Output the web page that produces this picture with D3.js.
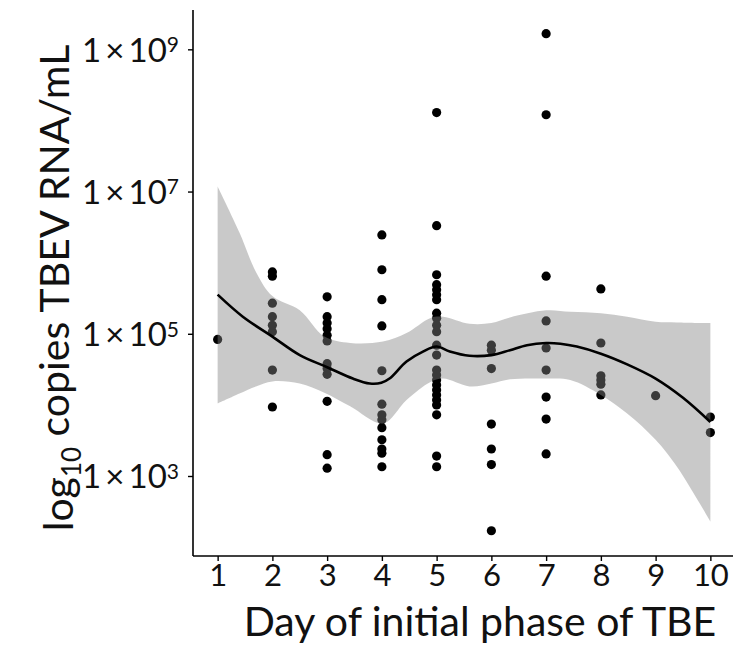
<!DOCTYPE html>
<html lang="en">
<head>
<meta charset="UTF-8">
<title>TBEV RNA by day</title>
<script src="https://d3js.org/d3.v7.min.js"></script>
<style>
  body { margin: 0; background: #fff; }
  text { font-family: Lato, "Open Sans", sans-serif; fill: #111; }
</style>
</head>
<body>
<script>
// days of the initial phase and log10 copies/mL
var days = [1, 2, 3, 4, 5, 6, 7, 8, 9, 10];
var log10Copies = [
  [4.92],
  [5.87, 5.81, 5.43, 5.24, 5.12, 5.03, 4.49, 3.97],
  [5.52, 5.24, 5.15, 5.07, 4.98, 4.90, 4.58, 4.51, 4.43, 4.05, 3.30, 3.11],
  [6.39, 5.90, 5.48, 5.11, 4.48, 4.01, 3.86, 3.79, 3.68, 3.51, 3.38, 3.32, 3.13],
  [8.11, 6.52, 5.83, 5.69, 5.62, 5.55, 5.48, 5.29, 5.22, 5.12, 5.03, 4.84, 4.70,
   4.49, 4.42, 4.35, 4.28, 4.21, 4.14, 4.07, 4.00, 3.86, 3.28, 3.13],
  [4.84, 4.77, 4.51, 3.73, 3.38, 3.16, 2.23],
  [9.22, 8.08, 5.81, 5.18, 4.80, 4.49, 4.11, 3.80, 3.31],
  [5.63, 4.87, 4.41, 4.35, 4.29, 4.14],
  [4.13],
  [3.83, 3.61]
];

// loess fit and its confidence band
var fitDay = [1, 1.46, 2, 2.5, 3, 3.47, 3.78, 3.99, 4.14, 4.45, 4.75, 5, 5.24, 5.6,
              6, 6.34, 6.65, 7, 7.26, 7.56, 8, 8.48, 9, 9.5, 10];
var fitLog = [5.55, 5.24, 4.96, 4.70, 4.53, 4.37, 4.30, 4.31, 4.37, 4.61, 4.75, 4.82, 4.75, 4.69,
              4.70, 4.77, 4.84, 4.87, 4.86, 4.82, 4.72, 4.57, 4.37, 4.10, 3.76];
var bandDay = [1, 1.4, 1.7, 2, 2.5, 2.95, 3.42, 4.02, 4.45, 4.88, 5.12, 5.6, 6, 6.34, 7, 7.44, 8, 8.48, 9, 9.39, 10];
var bandHigh = [7.07, 6.42, 5.87, 5.53, 5.33, 4.96, 4.87, 4.89, 5.01, 5.22, 5.24, 5.14, 5.15, 5.23, 5.33, 5.31, 5.29, 5.24, 5.17, 5.16, 5.15];
var bandLow = [4.02, 4.16, 4.26, 4.33, 4.30, 4.17, 3.98, 3.74, 4.07, 4.32, 4.37, 4.26, 4.30, 4.36, 4.37, 4.35, 4.14, 3.88, 3.51, 3.13, 2.36];

var yTicks = [3, 5, 7, 9];
var xLabel = 'Day of initial phase of TBE';

var width = 733, height = 656;
var padLeft = 193, padTop = 10, padBottom = 556, padRight = 735;

var svg = d3.select('body').append('svg')
  .attr('width', width)
  .attr('height', height);

var x = d3.scaleLinear().domain([0.55, 10.45]).range([padLeft, padRight]);
var y = d3.scaleLog().domain([Math.pow(10, 1.875), Math.pow(10, 9.553)]).range([padBottom, padTop]);

var points = [];
days.forEach(function(d, i) {
  log10Copies[i].forEach(function(v) { points.push({ day: d, v: v }); });
});

svg.append('g').selectAll('circle')
  .data(points)
  .enter().append('circle')
  .attr('cx', function(d) { return x(d.day); })
  .attr('cy', function(d) { return y(Math.pow(10, d.v)); })
  .attr('r', 4.6)
  .attr('fill', '#000');

var band = bandDay.map(function(d, i) { return { day: d, hi: bandHigh[i], lo: bandLow[i] }; });
var area = d3.area()
  .x(function(d) { return x(d.day); })
  .y0(function(d) { return y(Math.pow(10, d.lo)); })
  .y1(function(d) { return y(Math.pow(10, d.hi)); })
  .curve(d3.curveCatmullRom);

svg.append('path')
  .datum(band)
  .attr('d', area)
  .attr('fill', '#838383')
  .attr('fill-opacity', 0.44);

var fit = fitDay.map(function(d, i) { return { day: d, v: fitLog[i] }; });
var line = d3.line()
  .x(function(d) { return x(d.day); })
  .y(function(d) { return y(Math.pow(10, d.v)); })
  .curve(d3.curveCatmullRom);

svg.append('path')
  .datum(fit)
  .attr('d', line)
  .attr('fill', 'none')
  .attr('stroke', '#000')
  .attr('stroke-width', 2.6);

// axes
var xAxis = d3.axisBottom(x).tickValues(days).tickSize(5).tickPadding(3).tickFormat(d3.format('d'));
var gx = svg.append('g').attr('transform', 'translate(0,' + padBottom + ')').call(xAxis);
gx.select('.domain').attr('d', 'M' + padLeft + ',0H' + padRight).attr('stroke-width', 1.6);
gx.selectAll('.tick line').attr('stroke-width', 1.4);
gx.selectAll('.tick text').attr('font-size', 31).attr('fill', '#111').attr('dy', '0.72em');

var yAxis = d3.axisLeft(y).tickValues(yTicks.map(function(e) { return Math.pow(10, e); }))
  .tickSize(5).tickPadding(6).tickFormat('');
var gy = svg.append('g').attr('transform', 'translate(' + padLeft + ',0)').call(yAxis);
gy.select('.domain').attr('d', 'M0,' + padTop + 'V' + padBottom).attr('stroke-width', 1.6);
gy.selectAll('.tick line').attr('stroke-width', 1.4);
gy.selectAll('.tick').each(function(d) {
  var t = d3.select(this).append('text')
    .attr('x', -14)
    .attr('dy', '0.36em')
    .attr('text-anchor', 'end')
    .attr('font-size', 33);
  t.append('tspan').text('1\u2009\u00d7\u200910');
  t.append('tspan').attr('dy', '-0.45em').attr('font-size', 21).text(Math.round(Math.log10(d)));
});

svg.append('text')
  .attr('x', 480)
  .attr('y', 636)
  .attr('text-anchor', 'middle')
  .attr('font-size', 41)
  .text(xLabel);

var yt = svg.append('text')
  .attr('transform', 'translate(73,' + 288 + ') rotate(-90)')
  .attr('text-anchor', 'middle')
  .attr('font-size', 41);
yt.append('tspan').text('log');
yt.append('tspan').attr('font-size', 26).attr('dy', '0.3em').text('10');
yt.append('tspan').attr('dy', '-0.3em').text(' copies TBEV RNA/mL');
</script>
</body>
</html>
